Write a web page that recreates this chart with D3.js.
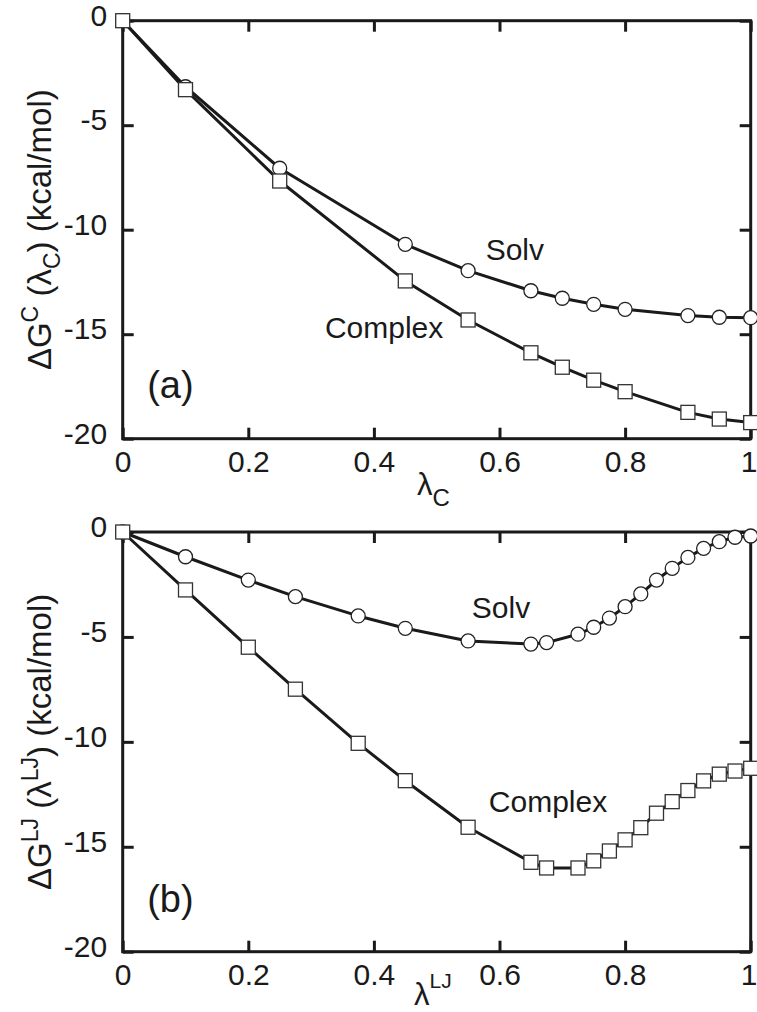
<!DOCTYPE html>
<html>
<head>
<meta charset="utf-8">
<script src="https://cdn.jsdelivr.net/npm/d3@7"></script>
<style>
  body { margin: 0; background: #fff; }
  svg text { font-family: "Liberation Sans", Arial, Helvetica, sans-serif; fill: #1a1a1a; }
</style>
</head>
<body>
<div id="vis"></div>
<script>
// panel (a): Coulomb decoupling
const lambdaC_solv = [0, 0.1, 0.25, 0.45, 0.55, 0.65, 0.7, 0.75, 0.8, 0.9, 0.95, 1.0];
const dGC_solv = [0, -3.16, -7.06, -10.7, -11.96, -12.92, -13.28, -13.57, -13.81, -14.11, -14.19, -14.21];
const lambdaC_cplx = [0, 0.1, 0.25, 0.45, 0.55, 0.65, 0.7, 0.75, 0.8, 0.9, 0.95, 1.0];
const dGC_cplx = [0, -3.3, -7.67, -12.45, -14.32, -15.89, -16.58, -17.2, -17.75, -18.74, -19.06, -19.23];

// panel (b): LJ decoupling
const lambdaLJ = [0, 0.1, 0.2, 0.275, 0.375, 0.45, 0.55, 0.65, 0.675, 0.725, 0.75, 0.775, 0.8,
                  0.825, 0.85, 0.875, 0.9, 0.925, 0.95, 0.975, 1.0];
const dGLJ_solv = [0, -1.18, -2.29, -3.08, -4.0, -4.59, -5.19, -5.34, -5.27, -4.87, -4.54, -4.1, -3.56,
                   -2.95, -2.29, -1.73, -1.21, -0.78, -0.46, -0.25, -0.19];
const dGLJ_cplx = [0, -2.76, -5.49, -7.49, -10.07, -11.85, -14.07, -15.74, -16.01, -16.01, -15.67, -15.2, -14.67,
                   -14.09, -13.4, -12.85, -12.32, -11.86, -11.54, -11.39, -11.26];

const xTicks = [0, 0.2, 0.4, 0.6, 0.8, 1];
const xTickLabels = ["0", "0.2", "0.4", "0.6", "0.8", "1"];
const yTicks = [0, -5, -10, -15, -20];
const yTickLabels = ["0", "-5", "-10", "-15", "-20"];

const width = 757, height = 1012;
const svg = d3.select("#vis").append("svg")
  .attr("width", width)
  .attr("height", height);

function drawPanel(p) {
  const x = d3.scaleLinear().domain([0, 1]).range([122.7, 750.7]);
  const y = d3.scaleLinear().domain([-20, 0]).range([p.bottom, p.top]);
  const g = svg.append("g");
  const tk = 11;

  // axes, ticks pointing inward on all four sides
  const bottomAx = g.append("g").attr("transform", `translate(0,${p.bottom})`)
    .call(d3.axisBottom(x).tickValues(xTicks).tickSize(-tk).tickPadding(12)
      .tickFormat((d, i) => xTickLabels[i]));
  const topAx = g.append("g").attr("transform", `translate(0,${p.top})`)
    .call(d3.axisTop(x).tickValues(xTicks).tickSize(-tk).tickFormat(""));
  const leftAx = g.append("g").attr("transform", `translate(122.7,0)`)
    .call(d3.axisLeft(y).tickValues(yTicks).tickSize(-tk).tickPadding(15.5)
      .tickFormat((d, i) => yTickLabels[i]));
  const rightAx = g.append("g").attr("transform", `translate(750.7,0)`)
    .call(d3.axisRight(y).tickValues(yTicks).tickSize(-tk).tickFormat(""));

  [bottomAx, topAx, leftAx, rightAx].forEach(a => {
    a.select(".domain").remove();
    a.selectAll("line").attr("stroke", "#1a1a1a").attr("stroke-width", 3);
    a.selectAll("text").style("font-size", "30px").attr("fill", "#1a1a1a");
  });
  leftAx.selectAll("text").attr("dy", "0.15em");
  // keep the "1" inside the picture
  bottomAx.selectAll(".tick").filter(d => d === 1).select("text")
    .attr("text-anchor", "end").attr("x", 6.3);

  // frame
  g.append("rect")
    .attr("x", x(0)).attr("y", y(0))
    .attr("width", x(1) - x(0)).attr("height", y(-20) - y(0))
    .attr("fill", "none").attr("stroke", "#1a1a1a").attr("stroke-width", 3);

  const line = d3.line().x(d => x(d[0])).y(d => y(d[1]));

  p.series.forEach(s => {
    const pts = s.xs.map((v, i) => [v, s.ys[i]]);
    g.append("path").datum(pts)
      .attr("d", line)
      .attr("fill", "none")
      .attr("stroke", "#1a1a1a")
      .attr("stroke-width", 3)
      .attr("stroke-linejoin", "round");
    if (s.marker === "circle") {
      g.selectAll(null).data(pts).enter().append("circle")
        .attr("cx", d => x(d[0])).attr("cy", d => y(d[1]))
        .attr("r", 7)
        .attr("fill", "#fff").attr("stroke", "#222").attr("stroke-width", 1.3);
    } else {
      g.selectAll(null).data(pts).enter().append("rect")
        .attr("x", d => x(d[0]) - 7).attr("y", d => y(d[1]) - 7)
        .attr("width", 14).attr("height", 14)
        .attr("fill", "#fff").attr("stroke", "#333").attr("stroke-width", 1.3);
    }
  });

  p.notes.forEach(n => {
    g.append("text")
      .attr("x", x(n.x)).attr("y", y(n.y))
      .style("font-size", n.size + "px")
      .text(n.text);
  });

  // y label, rotated
  const cy = (p.top + p.bottom) / 2;
  const yl = g.append("text")
    .attr("transform", `translate(51,${cy}) rotate(-90)`)
    .attr("text-anchor", "middle")
    .style("font-size", "33px");
  yl.append("tspan").text("ΔG");
  yl.append("tspan").attr("dy", -13).style("font-size", "23px").text(p.sym);
  yl.append("tspan").attr("dy", 13).text("\u00a0(λ");
  yl.append("tspan").attr("dy", p.symUp ? -13 : 9).style("font-size", "23px").text(p.sym);
  yl.append("tspan").attr("dy", p.symUp ? 13 : -9).text(")\u00a0(kcal/mol)");

  // x label
  const xl = g.append("text")
    .attr("x", p.xlab[0]).attr("y", p.xlab[1])
    .style("font-size", "31px");
  xl.append("tspan").text("λ");
  xl.append("tspan").attr("dy", p.symUp ? -17 : 11).style("font-size", p.symUp ? "21px" : "24px").text(p.sym);
}

drawPanel({
  top: 20.7, bottom: 438.7, sym: "C", symUp: false, xlab: [417, 495],
  series: [
    { xs: lambdaC_solv, ys: dGC_solv, marker: "circle" },
    { xs: lambdaC_cplx, ys: dGC_cplx, marker: "square" }
  ],
  notes: [
    { text: "Solv", x: 0.578, y: -11.45, size: 30 },
    { text: "Complex", x: 0.322, y: -15.18, size: 30 },
    { text: "(a)", x: 0.039, y: -18.05, size: 38 }
  ]
});

drawPanel({
  top: 532, bottom: 951.7, sym: "LJ", symUp: true, xlab: [414, 1005],
  series: [
    { xs: lambdaLJ, ys: dGLJ_solv, marker: "circle" },
    { xs: lambdaLJ, ys: dGLJ_cplx, marker: "square" }
  ],
  notes: [
    { text: "Solv", x: 0.556, y: -4.10, size: 30 },
    { text: "Complex", x: 0.583, y: -13.34, size: 30 },
    { text: "(b)", x: 0.039, y: -18.1, size: 38 }
  ]
});
</script>
</body>
</html>
